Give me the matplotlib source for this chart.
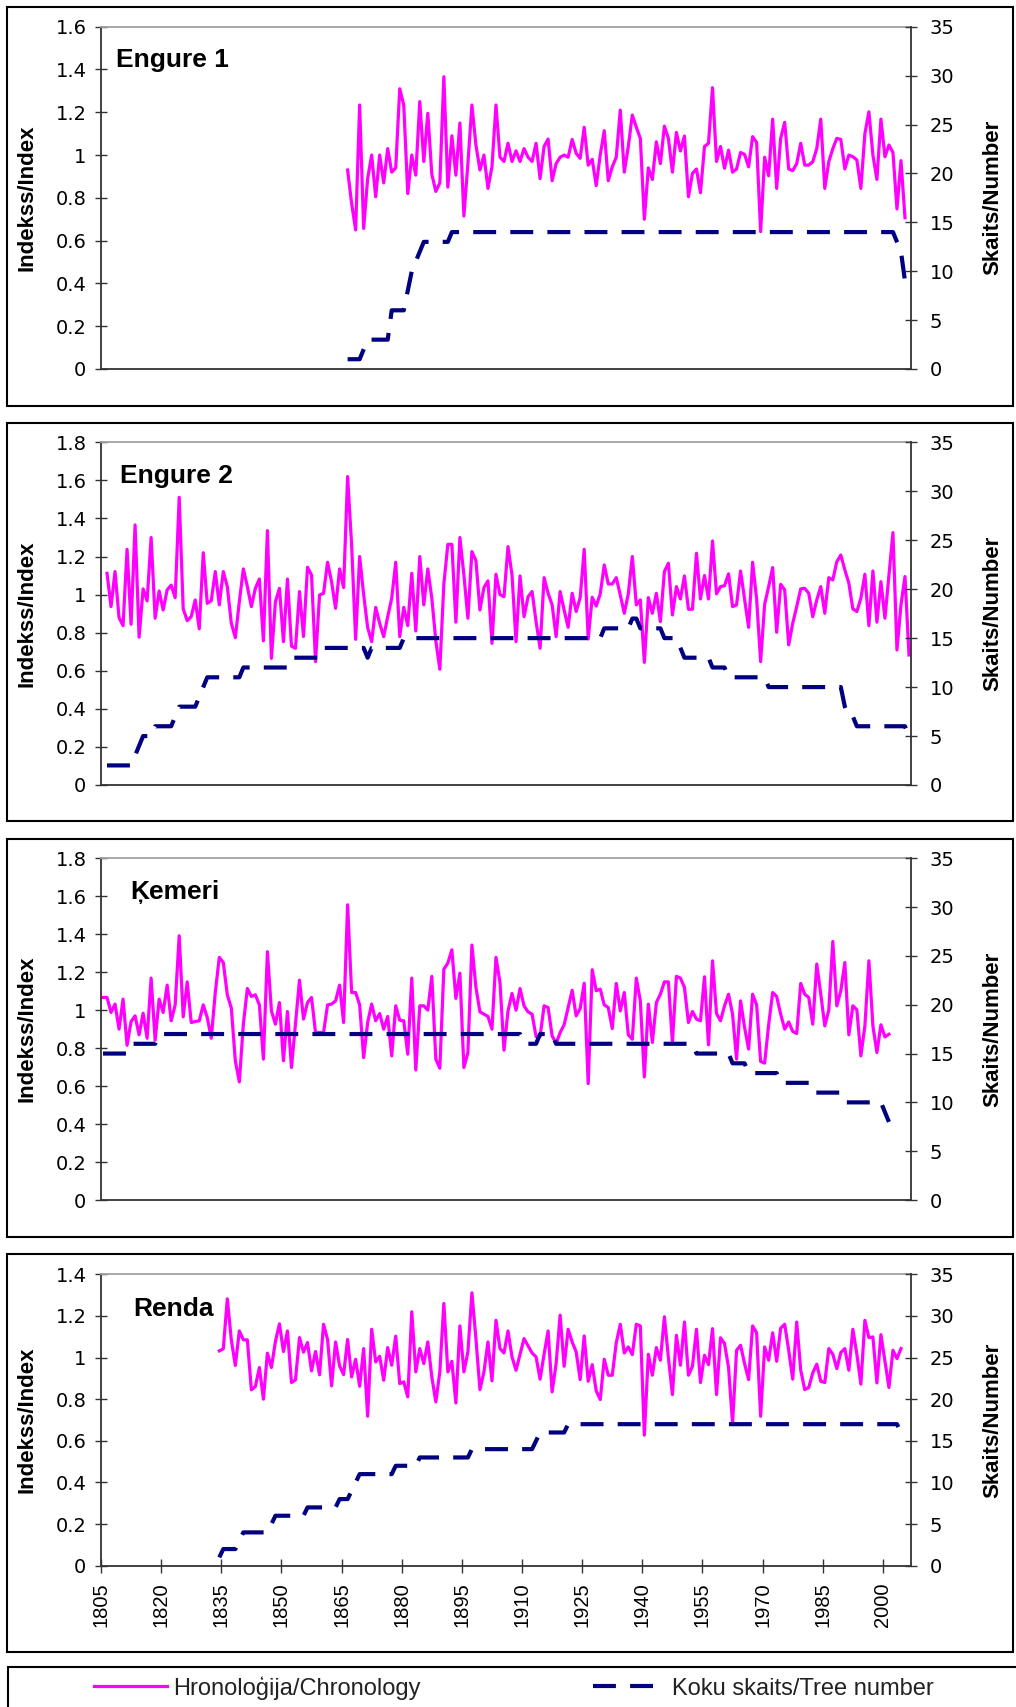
import matplotlib.pyplot as plt
from matplotlib.patches import Rectangle
from matplotlib.ticker import FuncFormatter, MultipleLocator

plt.rcParams['font.family'] = ['Liberation Sans', 'DejaVu Sans']

# Engure 1 chronology, 1866-2005
e1_start = 1866
e1_index = [
    0.93, 0.774, 0.65, 1.234, 0.657, 0.89, 1.0, 0.805, 1.0, 0.87,
    1.03, 0.92, 0.94, 1.31, 1.234, 0.82, 1.0, 0.906, 1.25, 0.97,
    1.195, 0.91, 0.83, 0.87, 1.366, 0.85, 1.09, 0.906, 1.15, 0.715,
    0.96, 1.234, 1.047, 0.93, 1.0, 0.844, 0.945, 1.234, 0.99, 0.97,
    1.055, 0.97, 1.02, 0.97, 1.03, 0.99, 0.97, 1.055, 0.89, 1.04,
    1.075, 0.88, 0.96, 0.99, 1.0, 0.99, 1.073, 1.008, 0.985, 1.13,
    0.953, 0.98, 0.857, 1.0, 1.114, 0.88, 0.945, 0.99, 1.21, 0.92,
    1.04, 1.187, 1.13, 1.078, 0.70, 0.94, 0.886, 1.062, 0.96, 1.135,
    1.078, 0.92, 1.106, 1.019, 1.089, 0.805, 0.914, 0.935, 0.824, 1.04,
    1.055, 1.315, 0.97, 1.04, 0.938, 1.023, 0.92, 0.935, 1.012, 1.003,
    0.945, 1.086, 1.059, 0.642, 0.99, 0.903, 1.168, 0.844, 1.078, 1.153,
    0.935, 0.927, 0.96, 1.055, 0.953, 0.953, 0.969, 1.03, 1.168, 0.844,
    0.969, 1.03, 1.078, 1.073, 0.935, 1.0, 0.992, 0.977, 0.844, 1.10,
    1.202, 1.0, 0.886, 1.168, 0.992, 1.047, 1.012, 0.748, 0.974, 0.707,
]
e1_trees = [1]*4 + [2] + [3]*6 + [6]*4 + [8, 10, 11, 12] + [13]*7 + [14]*111 + [13, 12, 9]

# Engure 2 chronology, 1806-2006
e2_start = 1806
e2_index = [
    1.112, 0.937, 1.121, 0.879, 0.837, 1.238, 0.844, 1.366, 0.776, 1.03,
    0.967, 1.30, 0.876, 1.019, 0.919, 1.025, 1.05, 0.984, 1.511, 0.925,
    0.863, 0.884, 0.972, 0.82, 1.22, 0.954, 0.968, 1.121, 0.946, 1.121,
    1.042, 0.849, 0.774, 0.963, 1.135, 1.042, 0.937, 1.033, 1.082, 0.757,
    1.336, 0.665, 0.963, 1.033, 0.753, 1.082, 0.73, 0.718, 1.016, 0.78,
    1.144, 1.103, 0.648, 0.998, 1.007, 1.17, 1.068, 0.928, 1.135, 1.037,
    1.62, 1.261, 0.765, 1.20, 1.0, 0.827, 0.753, 0.933, 0.849, 0.779,
    0.884, 0.981, 1.17, 0.779, 0.933, 0.837, 1.112, 0.809, 1.20, 0.946,
    1.135, 0.981, 0.757, 0.608, 1.056, 1.264, 1.264, 0.855, 1.30, 1.103,
    0.876, 1.226, 1.179, 0.919, 1.037, 1.072, 0.744, 1.107, 1.0, 0.989,
    1.252,
    1.103, 0.753, 1.098, 0.884, 0.989, 1.016, 0.858, 0.718, 1.089, 1.007,
    0.946, 0.779, 1.016, 0.919, 0.828, 1.007, 0.911, 0.984, 1.238, 0.767,
    0.986, 0.94, 1.004, 1.156, 1.056, 1.056, 1.089, 0.998, 0.902, 1.004,
    1.20, 0.946, 0.972, 0.644, 0.984, 0.902, 1.007, 0.858, 1.121, 1.165,
    0.893, 1.042, 0.977, 1.098, 0.923, 0.923, 1.217, 0.977, 1.10, 0.977,
    1.282, 1.004, 1.042, 1.047, 1.109, 0.937, 0.946, 1.124, 0.977, 0.828,
    1.17, 0.977, 0.648, 0.949, 1.042, 1.142, 0.802, 1.054, 1.025, 0.736,
    0.849, 0.937, 1.03, 1.033, 1.007, 0.884, 0.972, 1.042, 0.902, 1.089,
    1.077, 1.173, 1.208, 1.13, 1.06, 0.925, 0.911, 0.981, 1.107, 0.837,
    1.124, 0.855, 1.068, 0.876, 1.10, 1.326, 0.709, 0.946, 1.095, 0.683,
]
e2_trees = ([2]*7 + [3, 4] + [5]*3 + [6]*5 + [7] + [8]*5 + [9, 10] + [11]*9
            + [12]*12 + [13]*8 + [14]*11 + [13] + [14]*8 + [15]*50 + [16]*7
            + [17]*2 + [16]*6 + [15]*4 + [14] + [13]*7 + [12]*4 + [11]*10
            + [10]*19 + [8, 7, 7] + [6]*13 + [5])

# Kemeri chronology, 1805-2001
km_start = 1805
km_index = [
    1.067, 1.067, 0.988, 1.032, 0.90, 1.058, 0.815, 0.94, 0.97, 0.87,
    0.984, 0.852, 1.169, 0.842, 1.058, 0.988, 1.132, 0.944, 1.028, 1.392,
    0.965, 1.149, 0.935, 0.94, 0.944, 1.028, 0.961, 0.852, 1.093, 1.278,
    1.251, 1.081, 1.011, 0.733, 0.622, 0.926, 1.114, 1.072, 1.081, 1.028,
    0.742, 1.308, 0.996, 0.926, 1.04, 0.733, 0.993, 0.698, 0.926, 1.158,
    0.953, 1.04, 1.067, 0.882, 0.882, 0.882, 1.028, 1.032, 1.049, 1.132,
    0.935, 1.555, 1.093, 1.093, 1.028, 0.75, 0.935, 1.032, 0.944, 0.982,
    0.90, 0.967, 0.759, 1.023, 0.947, 0.944, 0.768, 1.169, 0.685, 1.023,
    1.023, 1.0, 1.178, 0.742, 0.694, 1.216, 1.248, 1.318, 1.062, 1.195,
    0.698, 0.777, 1.343, 1.12, 0.991, 0.979, 0.967, 0.90, 1.278, 1.146,
    0.789, 0.996,
    1.088, 1.0, 1.114, 1.023, 0.991, 0.979, 0.861, 0.861, 1.023, 1.014,
    0.865, 0.824, 0.882, 0.923, 1.014, 1.105, 0.97, 1.009, 1.142, 0.613,
    1.213, 1.102, 1.111, 1.028, 1.014, 0.903, 1.141, 0.996, 1.093, 0.87,
    0.847, 1.169, 1.049, 0.648, 1.032, 0.83, 1.04, 1.084, 1.149, 1.149,
    0.83, 1.178, 1.169, 1.12, 0.935, 0.993, 0.953, 0.944, 1.176, 0.817,
    1.26, 0.982, 0.944, 1.023, 1.084, 0.979, 0.742, 1.049, 0.909, 0.795,
    1.084, 1.028, 0.73, 0.721, 0.923, 1.093, 1.072, 0.979, 0.90, 0.938,
    0.888, 0.877, 1.141, 1.084, 1.067, 0.926, 1.243, 1.084, 0.917, 1.0,
    1.362, 1.023, 1.102, 1.251, 0.87, 1.023, 1.002, 0.759, 0.917, 1.26,
    0.917, 0.777, 0.923, 0.859, 0.873,
]
km_trees = ([15]*7 + [16]*7 + [17]*91 + [16]*4 + [17]*4 + [16]*35 + [15]*9
            + [14]*4 + [13]*8 + [12]*8 + [11]*8 + [10]*10 + [9, 8])

# Renda chronology, 1834-2004
rd_start = 1834
rd_index = [
    1.032, 1.042, 1.282, 1.085, 0.962, 1.128, 1.085, 1.085, 0.845, 0.861,
    0.952, 0.80, 1.021, 0.952, 1.077, 1.162, 1.029, 1.128, 0.88, 0.893,
    1.096, 1.026, 1.072, 0.936, 1.029, 0.917,
    1.16, 1.087, 0.864, 1.075, 0.96, 0.918, 1.087, 0.907, 0.992, 0.862,
    1.043, 0.718, 1.136, 0.979, 1.006, 0.891, 1.048, 0.963, 1.103, 0.875,
    0.883, 0.811, 1.22, 0.931, 1.043, 0.971, 1.075, 0.907, 0.787, 0.931,
    1.26, 0.931, 0.982, 0.782, 1.152, 0.931, 1.027, 1.311, 1.091, 0.846,
    0.931, 1.075, 0.888, 1.179, 1.043, 1.022, 1.128, 1.003, 0.939, 1.016,
    1.091, 1.056, 1.022, 1.003, 0.896, 1.016, 1.128, 0.835, 0.971, 1.204,
    0.958, 1.136, 1.075, 1.027, 0.894, 1.104, 0.886, 0.966, 0.84, 0.798,
    0.992, 0.915, 0.915, 1.071, 1.16, 1.022,
    1.051, 1.014, 1.16, 1.152, 0.627, 1.016, 0.915, 1.048, 0.987, 1.196,
    1.0, 0.822, 1.107, 0.963, 1.171, 0.915, 0.958, 1.136, 0.88, 1.011,
    0.966, 1.139, 0.822, 1.095, 1.067, 0.952, 0.683, 1.035, 1.059, 0.971,
    0.894, 1.152, 1.119, 0.718, 1.051, 0.987, 1.119, 0.982, 1.141, 1.16,
    1.035, 0.896, 1.171, 0.939, 0.846, 0.856, 0.926, 0.968, 0.886, 0.88,
    1.043, 1.016, 0.947, 1.024, 1.043, 0.939, 1.136, 1.016, 0.872, 1.179,
    1.096, 1.099, 0.878, 1.11, 0.984, 0.856, 1.035, 0.995, 1.043,
]
rd_trees = ([1] + [2]*4 + [3] + [4]*7 + [5] + [6]*8 + [7]*8 + [8]*3 + [9] + [10]
            + [11]*9 + [12]*6 + [13]*13 + [14]*16 + [15] + [16]*7 + [17]*83 + [16])

tick_years = [1805, 1820, 1835, 1850, 1865, 1880, 1895, 1910, 1925, 1940, 1955, 1970, 1985, 2000]

W, H = 1016, 1707
fig = plt.figure(figsize=(W / 100, H / 100), dpi=100)

# (name, start, index, trees, ymax, plot top px, plot bottom px, box top px, box bottom px, title x, title y)
panels = [
    ("Engure 1", e1_start, e1_index, e1_trees, 1.6, 26.7, 369, 7.3, 405.7, 0.019, 0.903),
    ("Engure 2", e2_start, e2_index, e2_trees, 1.8, 442.3, 785, 423.3, 820.7, 0.0235, 0.902),
    ("Ķemeri", km_start, km_index, km_trees, 1.8, 858.3, 1200, 839.3, 1237.3, 0.036, 0.901),
    ("Renda", rd_start, rd_index, rd_trees, 1.4, 1274.3, 1565.7, 1254, 1652, 0.0395, 0.881),
]

tick_font = {'family': ['DejaVu Sans'], 'size': 14}

handles = None
for i, (name, start, idx, trees, ymax, ptop, pbot, btop, bbot, tx, ty) in enumerate(panels):
    # chart border
    fig.patches.append(Rectangle((6.5 / W, 1 - bbot / H), 1006.5 / W, (bbot - btop) / H,
                                 transform=fig.transFigure, fill=False,
                                 edgecolor='black', linewidth=1.5))

    ax = fig.add_axes([101 / W, 1 - pbot / H, 810 / W, (pbot - ptop) / H])
    yrs_i = list(range(start, start + len(idx)))
    yrs_t = list(range(start, start + len(trees)))
    l1, = ax.plot(yrs_i, idx, color='#FF00FF', lw=2.3, solid_joinstyle='round',
                  label='Hronoloģija/Chronology')
    ax.set_xlim(1804.5, 2006.5)
    ax.set_ylim(0, ymax)
    ax.yaxis.set_major_locator(MultipleLocator(0.2))
    ax.yaxis.set_major_formatter(FuncFormatter(lambda v, p: '%g' % round(v, 2)))
    ax.tick_params(axis='y', direction='inout', length=9, width=1, color='#333333', pad=6)
    for lab in ax.get_yticklabels():
        lab.set_fontfamily(tick_font['family'])
        lab.set_fontsize(tick_font['size'])
    for s in ('left', 'bottom'):
        ax.spines[s].set_color('#333333')
        ax.spines[s].set_linewidth(1.3)
    ax.spines['top'].set_color('#a0a0a0')
    ax.spines['top'].set_linewidth(1.3)
    ax.spines['right'].set_visible(False)
    ax.set_ylabel('Indekss/Index', fontsize=16, fontweight='bold')
    ax.yaxis.set_label_coords((38 - 101) / 810, 0.5)

    if i == 3:
        ax.set_xticks([y - 0.5 for y in tick_years], labels=[str(y) for y in tick_years])
        ax.tick_params(axis='x', direction='inout', length=10, width=1, color='#333333',
                       labelsize=14.5, labelrotation=90, pad=7)
    else:
        ax.set_xticks([])

    ax.text(tx, ty, name, transform=ax.transAxes, fontsize=19, fontweight='bold',
            ha='left', va='center')

    ax2 = ax.twinx()
    l2, = ax2.plot(yrs_t, trees, color='#000080', lw=3, linestyle=(0, (5.5, 3.4)),
                   dash_capstyle='butt', label='Koku skaits/Tree number')
    ax2.set_ylim(0, 35)
    ax2.yaxis.set_major_locator(MultipleLocator(5))
    ax2.tick_params(axis='y', direction='inout', length=9, width=1, color='#333333', pad=9)
    for lab in ax2.get_yticklabels():
        lab.set_fontfamily(tick_font['family'])
        lab.set_fontsize(tick_font['size'])
    for s in ('left', 'top', 'bottom'):
        ax2.spines[s].set_visible(False)
    ax2.spines['right'].set_color('#333333')
    ax2.spines['right'].set_linewidth(1.3)
    ax2.set_ylabel('Skaits/Number', fontsize=16, fontweight='bold')
    ax2.yaxis.set_label_coords((982 - 101) / 810, 0.5)
    if handles is None:
        handles = [l1, l2]

# legend box (runs off the bottom / right edge)
fig.patches.append(Rectangle((8 / W, -0.05), 1.1, 0.05 + 1 - 1667 / H,
                             transform=fig.transFigure, fill=False,
                             edgecolor='black', linewidth=1.5))
fig.legend(handles=handles, labels=[h.get_label() for h in handles],
           loc='center left', bbox_to_anchor=(94 / W, 1 - 1688 / H), ncol=2,
           frameon=False, fontsize=17, handlelength=3.1, handletextpad=0.25,
           columnspacing=7.3, borderpad=0, borderaxespad=0, labelcolor='#222222')

fig.savefig('out.png', dpi=100)
